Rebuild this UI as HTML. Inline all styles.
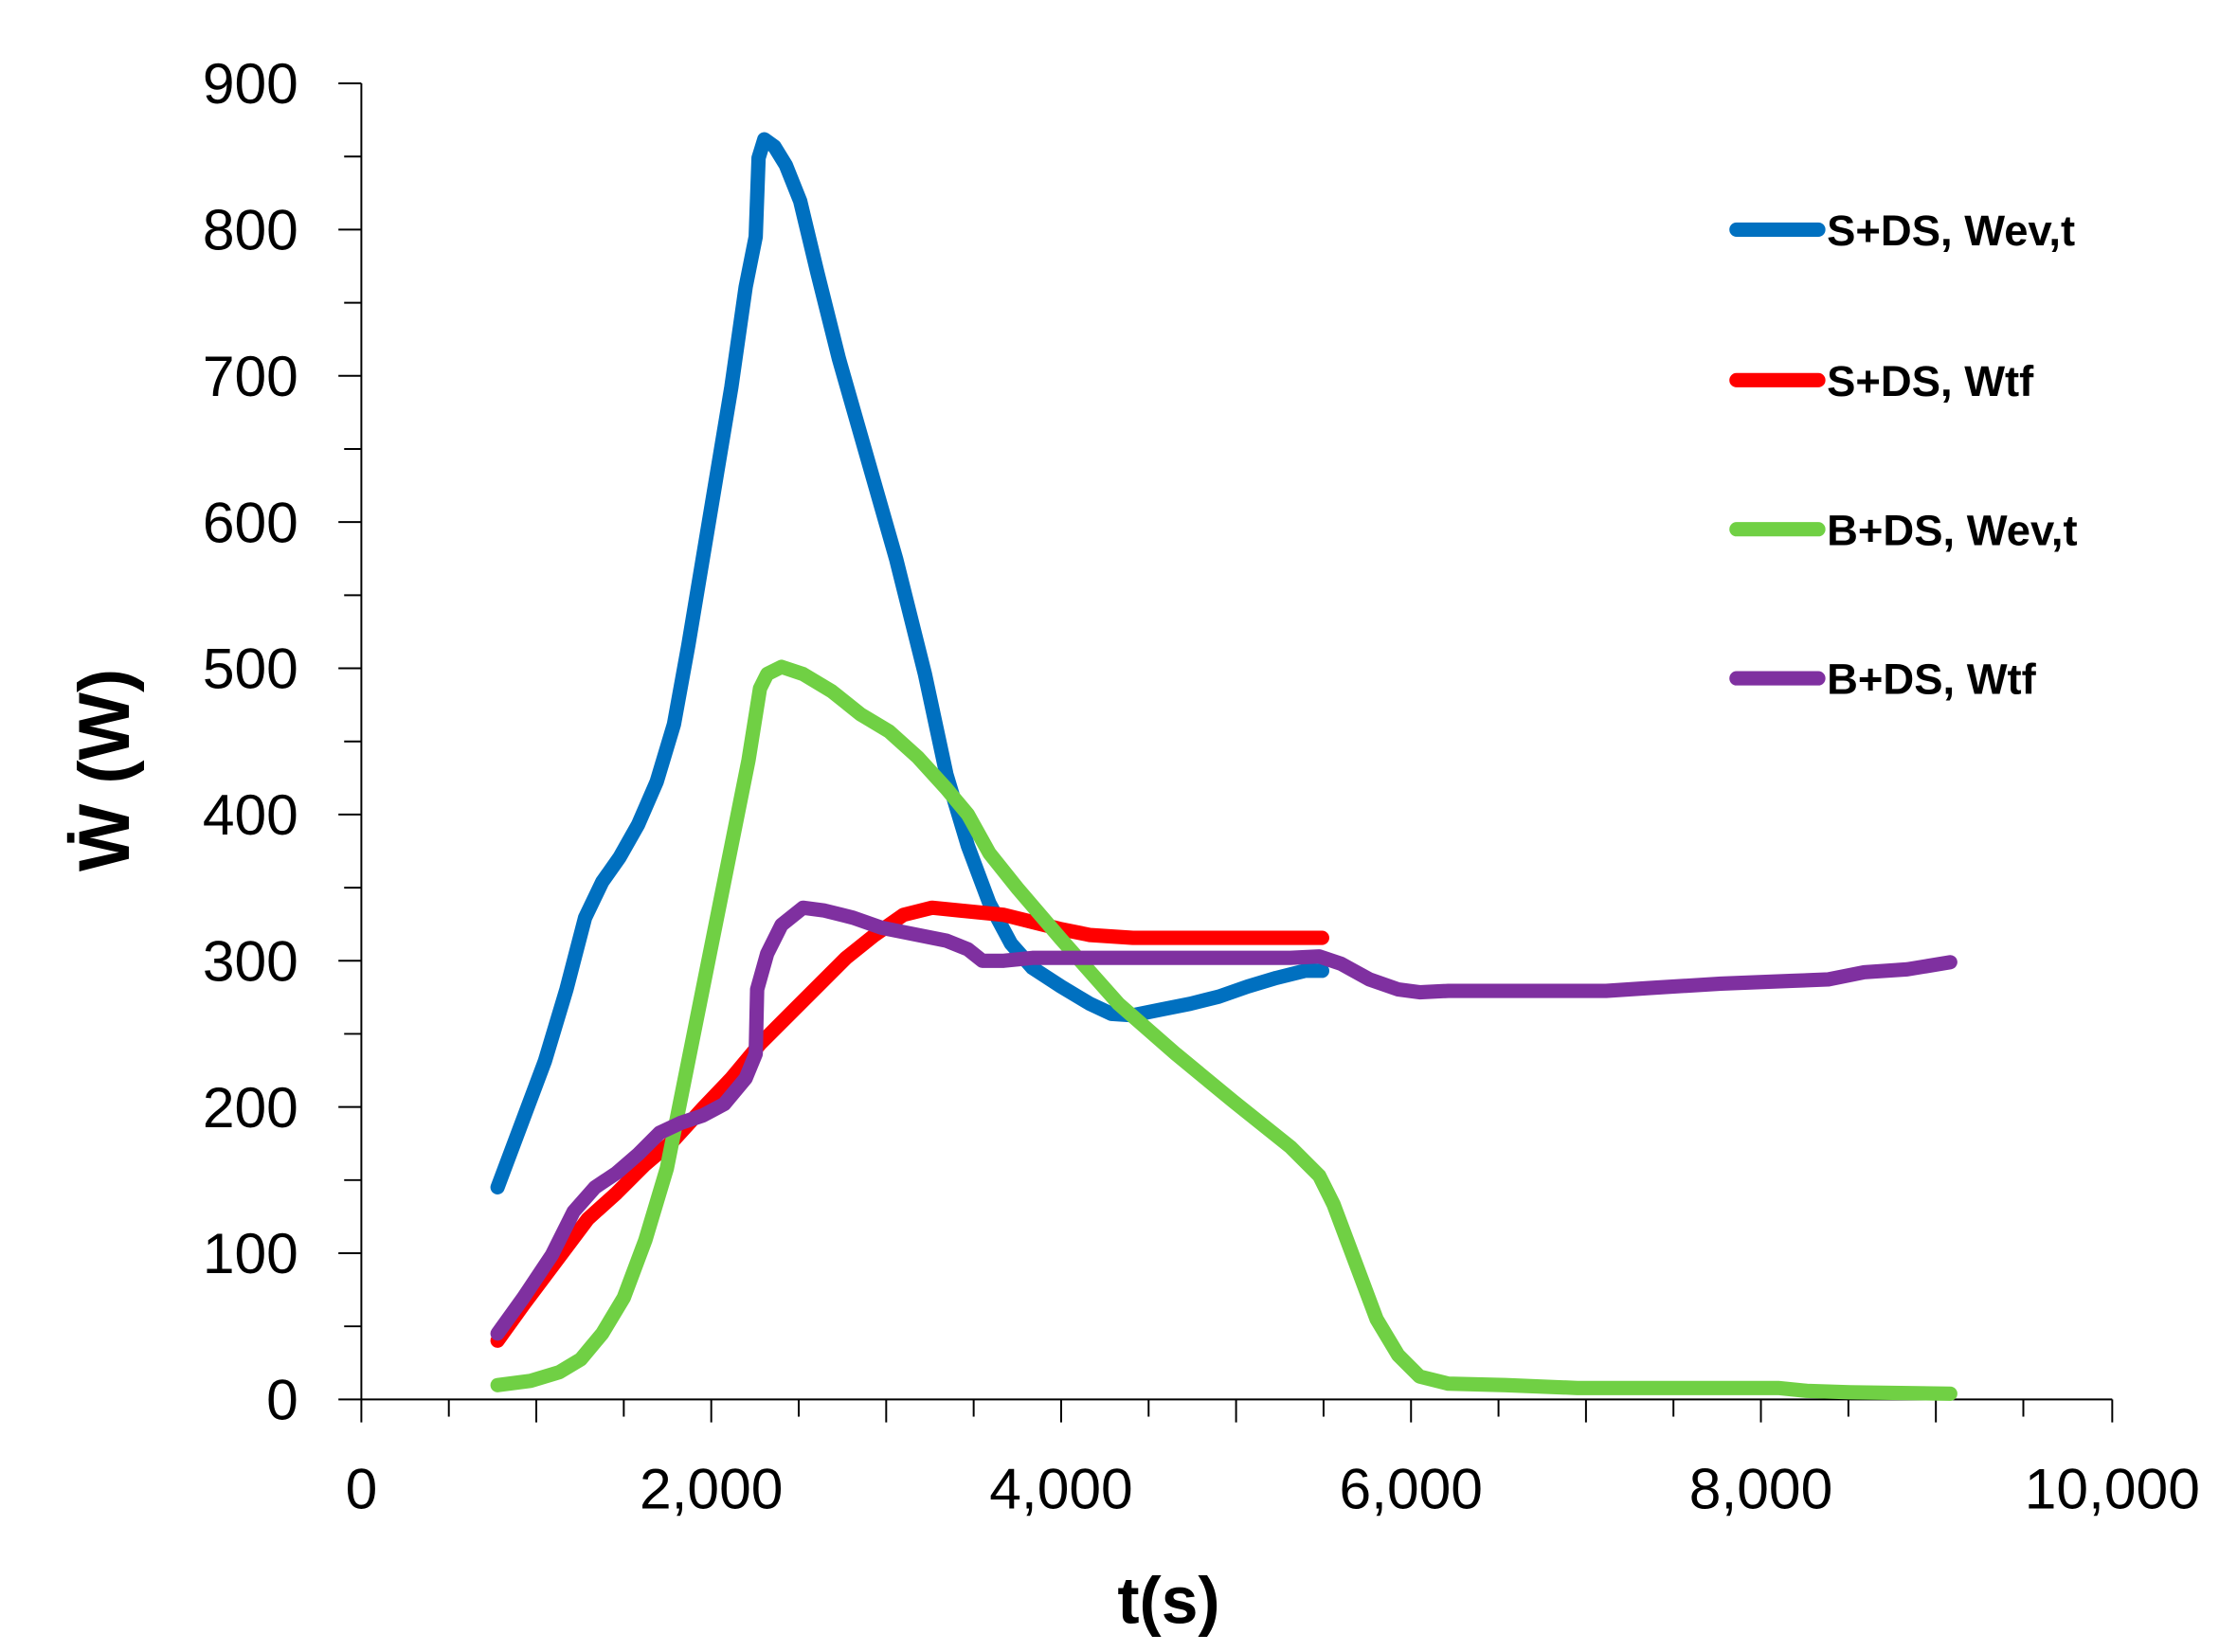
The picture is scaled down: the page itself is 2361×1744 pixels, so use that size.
<!DOCTYPE html>
<html><head><style>html,body{margin:0;padding:0;background:#fff}svg{display:block}</style></head>
<body>
<svg width="2361" height="1744" viewBox="0 0 1560 1152" xmlns="http://www.w3.org/2000/svg">
<rect width="1560" height="1152" fill="#fff"/>
<g stroke="#000" stroke-width="1.3" fill="none">
<line x1="252" y1="58" x2="252" y2="976"/>
<line x1="252" y1="976" x2="1473" y2="976"/>
<g>
<line x1="236" y1="976" x2="252" y2="976"/><line x1="240" y1="925" x2="252" y2="925"/>
<line x1="236" y1="874" x2="252" y2="874"/><line x1="240" y1="823" x2="252" y2="823"/>
<line x1="236" y1="772" x2="252" y2="772"/><line x1="240" y1="721" x2="252" y2="721"/>
<line x1="236" y1="670" x2="252" y2="670"/><line x1="240" y1="619" x2="252" y2="619"/>
<line x1="236" y1="568" x2="252" y2="568"/><line x1="240" y1="517" x2="252" y2="517"/>
<line x1="236" y1="466" x2="252" y2="466"/><line x1="240" y1="415" x2="252" y2="415"/>
<line x1="236" y1="364" x2="252" y2="364"/><line x1="240" y1="313" x2="252" y2="313"/>
<line x1="236" y1="262" x2="252" y2="262"/><line x1="240" y1="211" x2="252" y2="211"/>
<line x1="236" y1="160" x2="252" y2="160"/><line x1="240" y1="109" x2="252" y2="109"/>
<line x1="236" y1="58" x2="252" y2="58"/>
</g>
<g>
<line x1="252" y1="976" x2="252" y2="992"/><line x1="313" y1="976" x2="313" y2="988"/>
<line x1="374" y1="976" x2="374" y2="992"/><line x1="435" y1="976" x2="435" y2="988"/>
<line x1="496" y1="976" x2="496" y2="992"/><line x1="557" y1="976" x2="557" y2="988"/>
<line x1="618" y1="976" x2="618" y2="992"/><line x1="679" y1="976" x2="679" y2="988"/>
<line x1="740" y1="976" x2="740" y2="992"/><line x1="801" y1="976" x2="801" y2="988"/>
<line x1="862" y1="976" x2="862" y2="992"/><line x1="923" y1="976" x2="923" y2="988"/>
<line x1="984" y1="976" x2="984" y2="992"/><line x1="1045" y1="976" x2="1045" y2="988"/>
<line x1="1106" y1="976" x2="1106" y2="992"/><line x1="1167" y1="976" x2="1167" y2="988"/>
<line x1="1228" y1="976" x2="1228" y2="992"/><line x1="1289" y1="976" x2="1289" y2="988"/>
<line x1="1350" y1="976" x2="1350" y2="992"/><line x1="1411" y1="976" x2="1411" y2="988"/>
<line x1="1473" y1="976" x2="1473" y2="992"/>
</g>
</g>
<g font-family="Liberation Sans, sans-serif" font-size="40" fill="#000" text-anchor="end" textLength="73">
<text x="208" y="990">0</text><text x="208" y="888">100</text><text x="208" y="786">200</text>
<text x="208" y="684">300</text><text x="208" y="582">400</text><text x="208" y="480">500</text>
<text x="208" y="378">600</text><text x="208" y="276">700</text><text x="208" y="174">800</text>
<text x="208" y="72">900</text>
</g>
<g font-family="Liberation Sans, sans-serif" font-size="40" fill="#000" text-anchor="middle">
<text x="252" y="1052">0</text><text x="496" y="1052">2,000</text><text x="740" y="1052">4,000</text>
<text x="984" y="1052">6,000</text><text x="1228" y="1052">8,000</text><text x="1473" y="1052">10,000</text>
</g>
<text x="815" y="1132" font-family="Liberation Sans, sans-serif" font-size="46" font-weight="bold" text-anchor="middle">t(s)</text>
<text transform="translate(90,537) rotate(-90)" font-family="Liberation Sans, sans-serif" font-size="50" font-weight="bold" text-anchor="middle">Ẇ  (W)</text>
<g fill="none" stroke-width="10" stroke-linecap="round" stroke-linejoin="round">
<polyline stroke="#0070C0" points="347,828 365,780 380,740 395,690 408,640 420,615 432,598 445,575 458,545 470,505 480,450 490,390 500,330 510,270 520,200 527,165 529,110 533,97 540,102 548,115 558,140 570,190 585,250 605,320 625,390 645,470 660,540 675,590 690,630 705,658 720,675 740,688 760,700 775,707 790,708 810,704 830,700 850,695 870,688 890,682 910,677 922,677"/>
<polyline stroke="#FF0000" points="347,935 365,910 380,890 395,870 410,850 430,832 450,812 470,795 490,773 510,752 530,728 550,708 570,688 590,668 610,652 630,638 650,633 670,635 700,638 720,643 740,648 760,652 790,654 820,654 922,654"/>
<polyline stroke="#70D044" points="347,966 370,963 390,957 405,948 420,930 435,905 450,865 465,815 480,740 495,665 510,590 522,530 530,480 535,470 545,465 560,470 580,482 600,498 620,510 640,528 660,550 675,568 690,595 710,620 740,655 780,700 820,735 860,768 900,800 920,820 930,840 945,880 960,920 975,945 990,960 1010,965 1050,966 1100,968 1240,968 1260,970 1290,971 1360,972"/>
<polyline stroke="#7F30A0" points="347,930 365,905 385,875 400,845 415,828 430,818 445,805 460,790 475,783 490,778 505,770 520,752 527,735 528,690 535,665 545,645 560,633 575,635 595,640 615,647 630,650 660,656 675,662 685,670 700,670 720,668 800,668 900,668 920,667 935,672 955,683 975,690 990,692 1010,691 1120,691 1150,689 1200,686 1250,684 1275,683 1300,678 1330,676 1360,671"/>
<line x1="1211" y1="160" x2="1268" y2="160" stroke="#0070C0"/>
<line x1="1211" y1="265" x2="1268" y2="265" stroke="#FF0000"/>
<line x1="1211" y1="369" x2="1268" y2="369" stroke="#70D044"/>
<line x1="1211" y1="473" x2="1268" y2="473" stroke="#7F30A0"/>
</g>
<g font-family="Liberation Sans, sans-serif" font-size="30" font-weight="bold" fill="#000">
<text x="1274" y="171">S+DS, Wev,t</text>
<text x="1274" y="276">S+DS, Wtf</text>
<text x="1274" y="380">B+DS, Wev,t</text>
<text x="1274" y="484">B+DS, Wtf</text>
</g>
</svg>
</body></html>
